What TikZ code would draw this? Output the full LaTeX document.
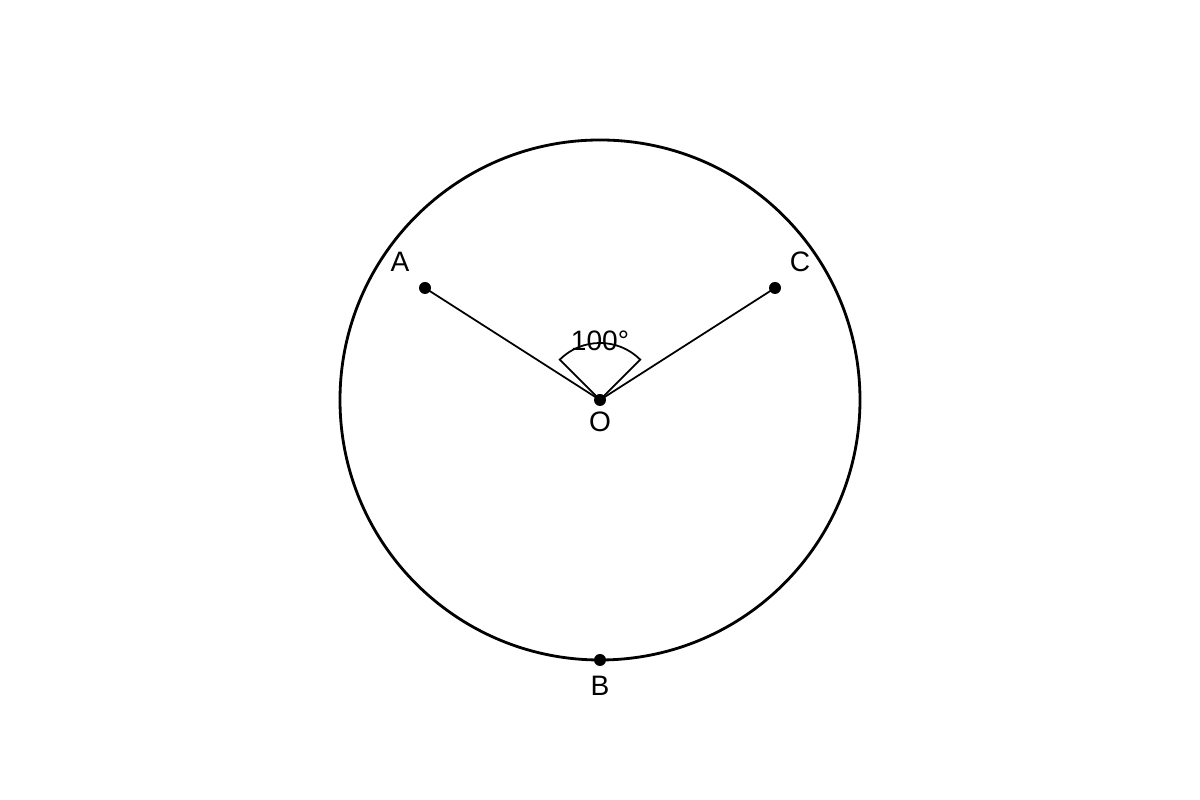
\documentclass[tikz,border=0pt]{standalone}
\usepackage{fontspec}
\setmainfont{Liberation Sans}
\usepackage{tikz}

\tikzset{
    dot/.style={circle, fill=black, inner sep=0pt, minimum size=0.12cm},
    lbl/.style={inner sep=0pt, font=\fontsize{8}{9.5}\selectfont}
}

\begin{document}
\begin{tikzpicture}
        \useasboundingbox (0, 0) rectangle (12, 8);
        \coordinate (O) at (6.0, 4.0); \coordinate (A) at (4.25, 5.12); \coordinate (C) at (7.75, 5.12); \coordinate (B) at (6.0, 1.4);
        \draw[line width=0.8pt] (O) circle (2.6);
        \draw[line width=0.5pt] (A) -- (O) -- (C);
        \draw[line width=0.5pt] (O) -- ++(135:0.57) arc (135:45:0.57) -- (O);
        \node[dot] (dA) at (A) {}; \node[lbl] (lA) at (4.0, 5.38) {A};
        \node[dot] (dC) at (C) {}; \node[lbl] (lC) at (8.0, 5.38) {C};
        \node[dot] (dO) at (O) {}; \node[lbl] (lO) at (6.0, 3.78) {O};
        \node[dot] (dB) at (B) {}; \node[lbl] (lB) at (6.0, 1.14) {B};
        \node[lbl] (ang) at (6.0, 4.59) {100°};
    \end{tikzpicture}
\end{document}
